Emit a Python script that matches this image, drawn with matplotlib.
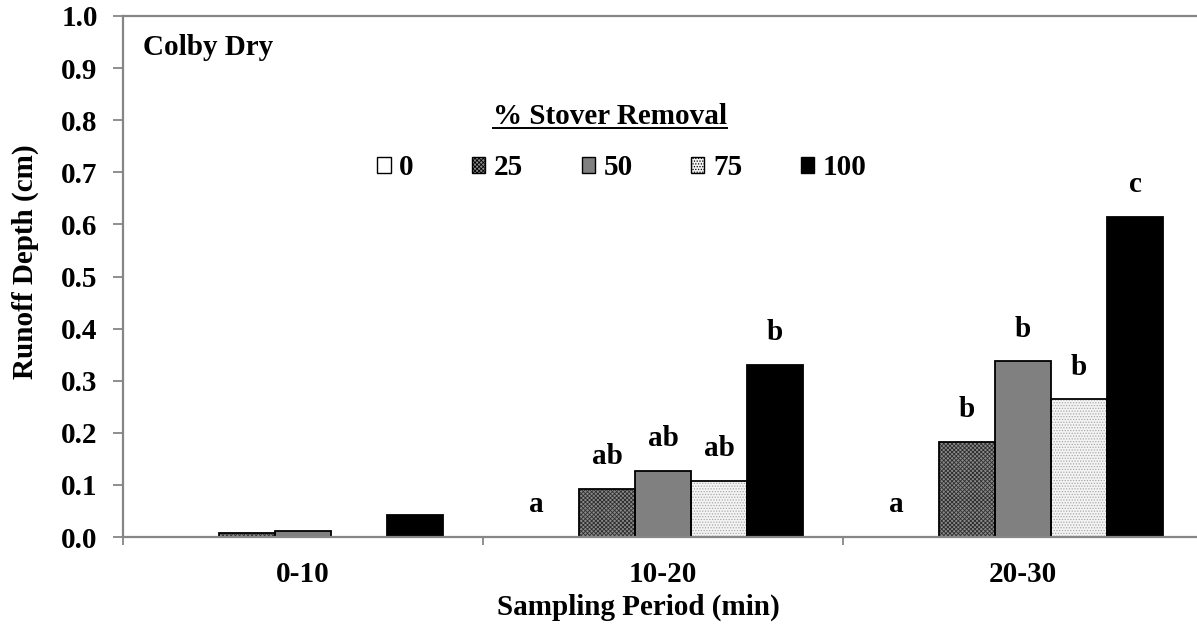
import matplotlib
matplotlib.use("Agg")
import matplotlib.pyplot as plt
from matplotlib.patches import Patch
import numpy as np

plt.rcParams['font.family'] = ['Liberation Serif', 'DejaVu Serif']
plt.rcParams['font.weight'] = 'bold'
plt.rcParams['hatch.linewidth'] = 0.6

# Datos
periodos = ["0-10", "10-20", "20-30"]
remocion = ["0", "25", "50", "75", "100"]
escorrentia = {
    "0":   [0.000, 0.000, 0.000],
    "25":  [0.007, 0.092, 0.183],
    "50":  [0.011, 0.127, 0.337],
    "75":  [0.000, 0.107, 0.264],
    "100": [0.043, 0.330, 0.614],
}
letras = {
    "0":   ["", "a", "a"],
    "25":  ["", "ab", "b"],
    "50":  ["", "ab", "b"],
    "75":  ["", "ab", "b"],
    "100": ["", "b", "c"],
}

# Estilo de cada serie: (relleno, trama, color de trama)
estilos = {
    "0":   ("white", None, None),
    "25":  ("#8a8a8a", "xxxxxxxx", "#2e2e2e"),
    "50":  ("#808080", None, None),
    "75":  ("#f4f4f4", "......", "#a8a8a8"),
    "100": ("black", None, None),
}

fs = 21
gris = "#868686"

fig = plt.figure(figsize=(11.97, 6.33), dpi=100)
ax = fig.add_axes([123 / 1197, 1 - 537 / 633, 1080 / 1197, 521 / 633])

x = np.arange(len(periodos))
ancho = 0.1556
handles = []
for i, serie in enumerate(remocion):
    pos = x + (i - 2) * ancho
    valores = escorrentia[serie]
    relleno, trama, color_trama = estilos[serie]
    if trama:
        ax.bar(pos, valores, ancho, color=relleno, hatch=trama,
               edgecolor=color_trama, linewidth=0, zorder=2)
    else:
        ax.bar(pos, valores, ancho, color=relleno, linewidth=0, zorder=2)
    for p, v in zip(pos, valores):
        if v > 0:
            ax.bar(p, v, ancho, fill=False, edgecolor="black",
                   linewidth=1.3, zorder=3)
    for p, v, letra in zip(pos, valores, letras[serie]):
        if letra:
            dx = -0.04 if v == 0 else 0
            ax.text(p + dx, v + 0.062, letra, ha="center", va="center",
                    fontsize=fs, fontweight="bold", zorder=4)
    handles.append(Patch(facecolor=relleno, hatch=trama,
                         edgecolor="black", linewidth=1.0))

ax.set_xlim(-0.5, 2.5)
ax.set_ylim(0, 1.0)
ax.set_yticks(np.arange(0, 1.01, 0.1))
ax.set_yticklabels([f"{v:.1f}" for v in np.arange(0, 1.01, 0.1)], fontsize=fs)
ax.tick_params(axis="y", length=7.2, width=1.3, color=gris, pad=11)

ax.set_xticks([-0.5, 0.5, 1.5, 2.5])
ax.set_xticklabels([])
ax.set_xticks(x, minor=True)
ax.set_xticklabels(periodos, minor=True, fontsize=fs)
ax.tick_params(axis="x", which="major", length=5.8, width=1.3, color=gris)
ax.tick_params(axis="x", which="minor", length=0, pad=17)

for lado in ["left", "bottom", "top"]:
    ax.spines[lado].set_color(gris)
    ax.spines[lado].set_linewidth(1.6)
    ax.spines[lado].set_zorder(5)
ax.spines["right"].set_visible(False)

ax.set_ylabel("Runoff Depth (cm)", fontsize=fs, fontweight="bold")
ax.yaxis.set_label_coords(-0.078, 0.528)
ax.set_xlabel("Sampling Period (min)", fontsize=fs, fontweight="bold")
ax.xaxis.set_label_coords(0.477, -0.108)

ax.text(0.0185, 0.939, "Colby Dry", transform=ax.transAxes, fontsize=fs,
        fontweight="bold", ha="left", va="center")

# Título de la leyenda subrayado
titulo = ax.text(0.451, 0.808, "% Stover Removal", transform=ax.transAxes,
                 fontsize=fs, fontweight="bold", ha="center", va="center")
fig.canvas.draw()
bb = titulo.get_window_extent().transformed(ax.transAxes.inverted())
ax.plot([bb.x0, bb.x1], [bb.y0 + 0.002, bb.y0 + 0.002], color="black",
        linewidth=1.4, transform=ax.transAxes, clip_on=False)

leg = ax.legend(handles, remocion, ncol=5, loc="center",
                bbox_to_anchor=(0.462, 0.709), frameon=False,
                prop={"size": fs, "weight": "bold"},
                handlelength=0.45, handleheight=0.45, handletextpad=0.3,
                columnspacing=2.0, borderpad=0)

fig.savefig("out.png", dpi=100)
